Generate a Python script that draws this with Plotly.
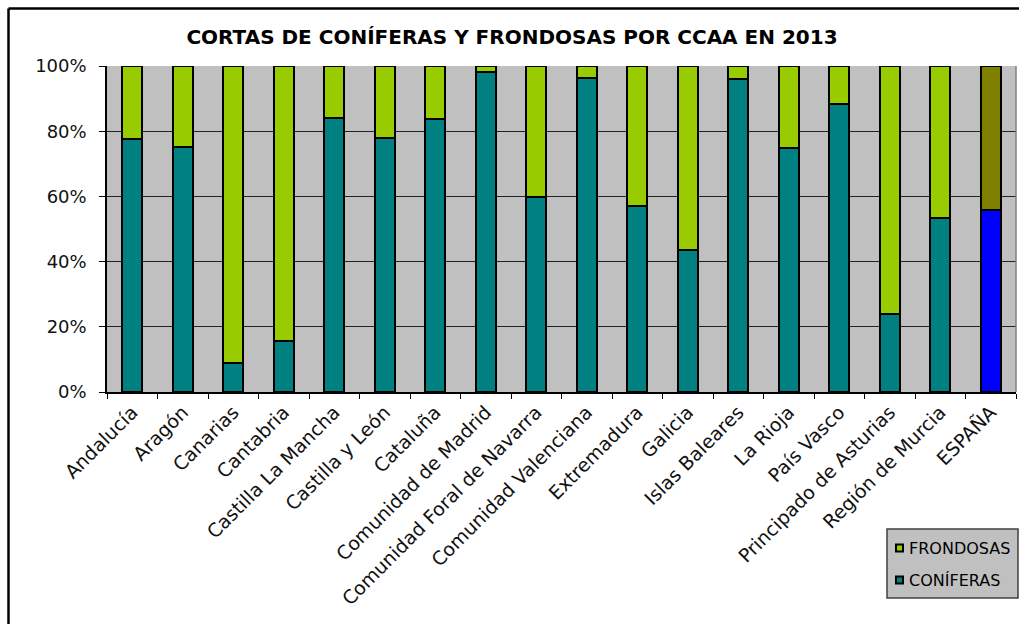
import plotly.graph_objects as go

# datos (porcentaje de coníferas sobre el total de cortas)
ccaa = ['Andalucía', 'Aragón', 'Canarias', 'Cantabria', 'Castilla La Mancha',
        'Castilla y León', 'Cataluña', 'Comunidad de Madrid',
        'Comunidad Foral de Navarra', 'Comunidad Valenciana', 'Extremadura',
        'Galicia', 'Islas Baleares', 'La Rioja', 'País Vasco',
        'Principado de Asturias', 'Región de Murcia', 'ESPAÑA']
coniferas = [77.6, 75.3, 9.0, 15.7, 83.9, 77.9, 83.6, 98.2, 59.9,
             96.4, 57.0, 43.6, 96.1, 74.8, 88.2, 23.9, 53.5, 55.9]
frondosas = [round(100 - v, 1) for v in coniferas]
y_ticks = [0, 20, 40, 60, 80, 100]
series = ['FRONDOSAS', 'CONÍFERAS']

FONT = 'DejaVu Sans, Arial, sans-serif'
# España lleva colores propios
col_conif = ['#008080'] * (len(ccaa) - 1) + ['#0000FF']
col_frond = ['#99CC00'] * (len(ccaa) - 1) + ['#808000']

# geometría en píxeles del área de dibujo
L, T, W, H = 107, 66, 909, 326


def px(x, y):
    # pasa píxeles de la ventana a coordenadas 'paper'
    return (x - L) / W, (T + H - y) / H


fig = go.Figure()
fig.add_trace(go.Bar(x=ccaa, y=coniferas, name=series[1],
                     marker=dict(color=col_conif, line=dict(color='black', width=2))))
fig.add_trace(go.Bar(x=ccaa, y=frondosas, name=series[0],
                     marker=dict(color=col_frond, line=dict(color='black', width=2))))

fig.update_layout(
    width=1019, height=624,
    barmode='stack', bargap=0.6,
    paper_bgcolor='white', plot_bgcolor='#C0C0C0',
    margin=dict(l=L, r=1019 - L - W, t=T, b=624 - T - H),
    font=dict(family=FONT, color='#111111'),
    title=dict(text='<b>CORTAS DE CONÍFERAS Y FRONDOSAS POR CCAA EN 2013</b>',
               x=512 / 1019, xref='container', xanchor='center',
               y=1 - 37 / 624, yanchor='middle',
               font=dict(size=20, color='black', family=FONT)),
    xaxis=dict(tickangle=-45, tickfont=dict(size=19), tickson='boundaries',
               ticks='outside', ticklen=5, tickcolor='black',
               showline=True, linecolor='black', linewidth=1.5,
               showgrid=False),
    yaxis=dict(range=[0, 100], tickvals=y_ticks,
               ticktext=[f'{v}%' for v in y_ticks], tickfont=dict(size=18),
               ticks='outside', ticklen=6, tickcolor='black',
               ticklabelstandoff=9,
               showline=True, linecolor='black', linewidth=1.5,
               gridcolor='#222222', gridwidth=1, zeroline=False),
    showlegend=False,
)

# borde derecho del área de dibujo
fig.add_shape(type='line', xref='paper', yref='paper', x0=1, x1=1, y0=0, y1=1,
              line=dict(color='#808080', width=1.5))

# leyenda dibujada a mano (caja gris con cuadraditos)
bx0, by0 = px(887, 529)
bx1, by1 = px(1018, 598)
fig.add_shape(type='rect', xref='paper', yref='paper', x0=bx0, x1=bx1, y0=by0, y1=by1,
              fillcolor='#C0C0C0', line=dict(color='#404040', width=1.5))
for name, col, yc in [(series[0], '#99CC00', 548), (series[1], '#008080', 580)]:
    sx0, sy0 = px(896, yc - 3.5)
    sx1, sy1 = px(903, yc + 3.5)
    fig.add_shape(type='rect', xref='paper', yref='paper',
                  x0=sx0, x1=sx1, y0=sy0, y1=sy1,
                  fillcolor=col, line=dict(color='black', width=2))
    tx, ty = px(907, yc)
    fig.add_annotation(text=name, xref='paper', yref='paper', x=tx, y=ty,
                       xanchor='left', yanchor='middle', showarrow=False,
                       font=dict(size=16, color='black', family=FONT))

# marco del gráfico (sólo se ven los lados izquierdo y superior)
fx, fy = px(8.5, 8.5)
fx2, fy2 = px(1040, 640)
fig.add_shape(type='line', xref='paper', yref='paper', x0=fx, x1=fx, y0=fy2, y1=fy,
              line=dict(color='black', width=2.5))
fig.add_shape(type='line', xref='paper', yref='paper', x0=fx, x1=fx2, y0=fy, y1=fy,
              line=dict(color='black', width=2.5))

fig.write_html('out.html', config={'displayModeBar': False},
               post_script="document.body.style.margin='0';")
